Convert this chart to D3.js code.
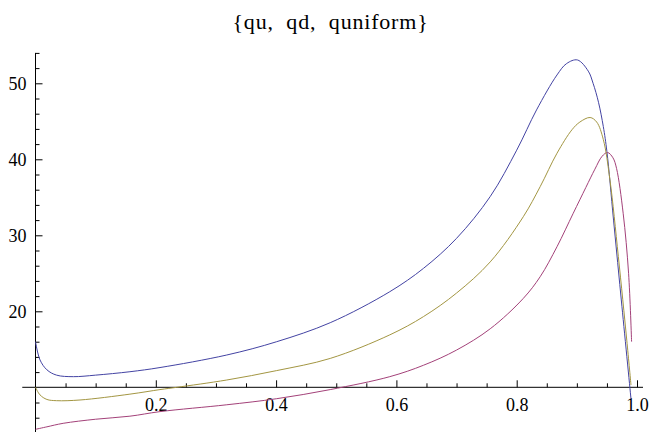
<!DOCTYPE html>
<html>
<head>
<meta charset="utf-8">
<script src="https://cdn.jsdelivr.net/npm/d3@7"></script>
<style>
  body { margin: 0; background: #fff; }
  svg text { font-family: "Liberation Serif", "Tinos", "Times New Roman", Times, "DejaVu Serif", serif; fill: #000; }
</style>
</head>
<body>
<svg id="chart"></svg>
<script>
// values
const quX = [0, 0.0075, 0.019, 0.035, 0.063, 0.10, 0.157, 0.207, 0.318, 0.401, 0.49, 0.589, 0.645, 0.70, 0.756, 0.80, 0.833, 0.867, 0.883, 0.901, 0.919, 0.927, 0.936, 0.944, 0.95, 0.961, 0.975, 0.99];
const quY = [16.0, 13.6, 12.3, 11.6, 11.4, 11.6, 12.05, 12.6, 14.25, 16.0, 18.5, 22.58, 25.65, 29.6, 35.1, 41.2, 46.5, 51.1, 52.6, 53.07, 51.6, 50.0, 47.5, 44.3, 41.0, 32.0, 20.6, 8.5];

const qdX = [0, 0.019, 0.046, 0.10, 0.157, 0.207, 0.318, 0.401, 0.49, 0.589, 0.645, 0.70, 0.756, 0.811, 0.839, 0.867, 0.894, 0.915, 0.93, 0.942, 0.951, 0.96, 0.966, 0.977, 0.986, 0.991];
const qdY = [4.47, 4.8, 5.26, 5.8, 6.2, 6.8, 7.7, 8.5, 9.7, 11.4, 12.9, 14.9, 17.7, 21.7, 24.55, 28.5, 32.9, 36.3, 38.7, 40.4, 40.9, 40.2, 38.8, 32.9, 25.0, 16.0];

const qunifX = [0, 0.0075, 0.019, 0.035, 0.074, 0.157, 0.207, 0.235, 0.318, 0.401, 0.49, 0.589, 0.645, 0.70, 0.756, 0.811, 0.839, 0.867, 0.892, 0.905, 0.922, 0.933, 0.944, 0.955, 0.969, 0.983, 0.99];
const qunifY = [10.0, 9.0, 8.4, 8.24, 8.33, 9.1, 9.7, 10.0, 10.96, 12.2, 13.8, 16.9, 19.3, 22.4, 26.5, 32.45, 36.4, 40.8, 43.9, 44.9, 45.5, 44.9, 42.6, 37.3, 27.2, 16.2, 10.3];

const seriesNames = ['qu', 'qd', 'quniform'];
const seriesColors = ['#4343a3', '#a34179', '#a39642'];

const xMajor = [0.2, 0.4, 0.6, 0.8, 1.0];
const xMinor = d3.range(1, 21).map(i => i * 0.05).filter(v => Math.abs(v * 5 - Math.round(v * 5)) > 1e-6);
const yMajor = [20, 30, 40, 50];
const yMinor = [6, 8, 12, 14, 16, 18, 22, 24, 26, 28, 32, 34, 36, 38, 42, 44, 46, 48, 52, 54];

const width = 654, height = 432;

const svg = d3.select('#chart')
    .attr('width', width)
    .attr('height', height);

const x = d3.scaleLinear().domain([0, 1]).range([35.5, 637]);
const y = d3.scaleLinear().domain([10, 50]).range([387.3, 83.3]);

const lines = [
    { x: quX, y: quY },
    { x: qdX, y: qdY },
    { x: qunifX, y: qunifY }
];

// axis lines, crossing at (0, 10)
svg.append('line')
    .attr('x1', x(-0.022)).attr('x2', x(1.01))
    .attr('y1', y(10)).attr('y2', y(10))
    .attr('stroke', '#000').attr('stroke-width', 1);
svg.append('line')
    .attr('x1', x(0)).attr('x2', x(0))
    .attr('y1', y(54)).attr('y2', y(4))
    .attr('stroke', '#000').attr('stroke-width', 1);

// ticks point into the plot
const xAxisG = svg.append('g').attr('transform', `translate(0,${y(10)})`);
xAxisG.append('g')
    .call(d3.axisBottom(x).tickValues(xMinor).tickSize(-4).tickFormat(''))
    .call(g => g.select('.domain').remove());
xAxisG.append('g')
    .call(d3.axisBottom(x).tickValues(xMajor).tickSize(-7).tickPadding(11).tickFormat(d3.format('.1f')))
    .call(g => g.select('.domain').remove());

const yAxisG = svg.append('g').attr('transform', `translate(${x(0)},0)`);
yAxisG.append('g')
    .call(d3.axisLeft(y).tickValues(yMinor).tickSize(-4).tickFormat(''))
    .call(g => g.select('.domain').remove());
yAxisG.append('g')
    .call(d3.axisLeft(y).tickValues(yMajor).tickSize(-7).tickPadding(9).tickFormat(d3.format('d')))
    .call(g => g.select('.domain').remove());

svg.selectAll('.tick line').attr('stroke', '#000').attr('stroke-width', 1);
svg.selectAll('.tick text')
    .attr('font-size', 18)
    .attr('fill', '#000');

// curves
const line = d3.line()
    .x(d => x(d[0]))
    .y(d => y(d[1]))
    .curve(d3.curveCatmullRom.alpha(0.5));

svg.append('g')
    .selectAll('path')
    .data(lines)
    .join('path')
    .attr('d', d => line(d.x.map((v, i) => [v, d.y[i]])))
    .attr('fill', 'none')
    .attr('stroke', (d, i) => seriesColors[i])
    .attr('stroke-width', 1);

svg.append('text')
    .attr('x', 330.5)
    .attr('y', 29)
    .attr('text-anchor', 'middle')
    .attr('font-size', 22)
    .attr('letter-spacing', 0.8)
    .text('{' + seriesNames.join(',\u00a0\u00a0') + '}');
</script>
</body>
</html>
